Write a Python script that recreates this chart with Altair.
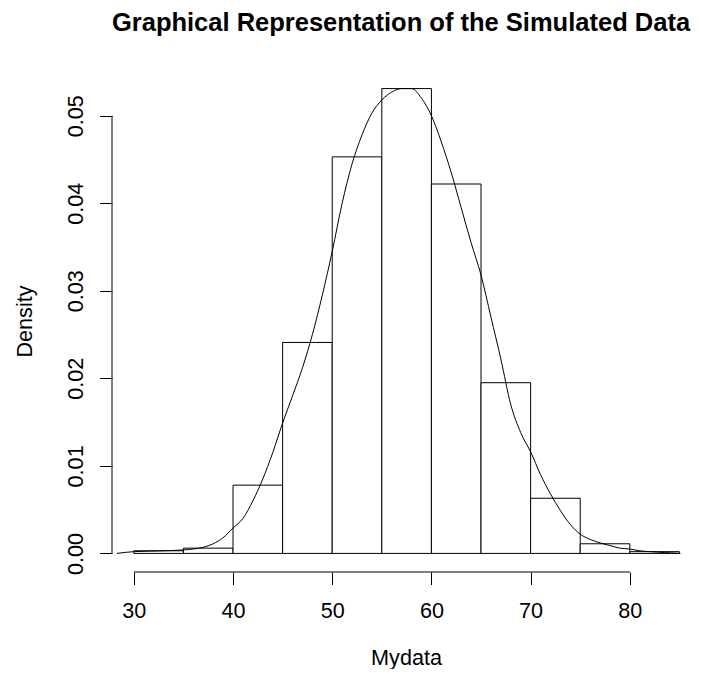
import altair as alt
import pandas as pd

# Histogram (density scale), bins of width 5
bin_start = [30, 35, 40, 45, 50, 55, 60, 65, 70, 75, 80]
bin_end = [35, 40, 45, 50, 55, 60, 65, 70, 75, 80, 85]
bin_density = [0.0003, 0.0006, 0.0078, 0.0241, 0.0453, 0.0531, 0.0422, 0.0195, 0.0063, 0.0011, 0.0002]

# Kernel density curve
curve_x = [28.3, 30, 33, 35, 36, 37, 38, 39, 40, 41, 42, 43, 44, 45, 46, 47, 48, 49, 50,
           51, 52, 53, 54, 55, 56, 57, 58, 59, 60, 61, 62, 63, 64, 65, 66, 67, 68, 69, 70,
           71, 72, 73, 74, 75, 76, 77, 78, 79, 80, 81, 82, 83.5, 85.1]
curve_y = [0.0, 0.0002, 0.0003, 0.0004, 0.0005, 0.0007, 0.0011, 0.0018, 0.0029, 0.0040,
           0.0060, 0.0085, 0.0115, 0.0149, 0.0180, 0.0212, 0.0250, 0.0295, 0.0345, 0.0400,
           0.0445, 0.0478, 0.0503, 0.0518, 0.0527, 0.0531, 0.0531, 0.0520, 0.0500, 0.0470,
           0.0435, 0.0395, 0.0355, 0.0318, 0.0270, 0.0222, 0.0170, 0.0138, 0.0116, 0.0090,
           0.0068, 0.0049, 0.0033, 0.0022, 0.0016, 0.0012, 0.0009, 0.0006, 0.0005, 0.0003,
           0.0002, 0.0001, 0.0]

x_ticks = [30, 40, 50, 60, 70, 80]
y_ticks = [0.0, 0.01, 0.02, 0.03, 0.04, 0.05]

TITLE = "Graphical Representation of the Simulated Data"
X_TITLE = "Mydata"
Y_TITLE = "Density"

FONT = "Liberation Sans"
FS = 21.6
W, H = 582, 502

xs = alt.Scale(domain=[27.8, 86.47], nice=False, zero=False)
ys = alt.Scale(domain=[-0.002124, 0.055224], nice=False, zero=False)

bars_df = pd.DataFrame({"start": bin_start, "end": bin_end, "density": bin_density})
curve_df = pd.DataFrame({"x": curve_x, "y": curve_y})

x_axis = alt.Axis(values=x_ticks, title=X_TITLE, domain=False, grid=False, tickSize=12.5,
                  tickColor="black", labelFontSize=FS, labelFont=FONT, labelColor="black",
                  labelPadding=33, labelBaseline="alphabetic", labelFlush=False,
                  labelOverlap=False, titleFont=FONT, titleFontSize=FS,
                  titleFontWeight="normal", titleColor="black", titleY=92.5,
                  titleX=294, titleAlign="center", titleBaseline="alphabetic")
y_axis = alt.Axis(values=y_ticks, title=Y_TITLE, format=".2f", domain=False, grid=False,
                  tickSize=12.5, tickColor="black", labelFontSize=FS, labelFont=FONT,
                  labelColor="black", labelAngle=270, labelAlign="center",
                  labelBaseline="alphabetic", labelPadding=17.5, labelFlush=False,
                  labelOverlap=False, titleFont=FONT, titleFontSize=FS,
                  titleFontWeight="normal", titleColor="black", titleAngle=270,
                  titleX=-81, titleY=H / 2, titleAlign="center", titleBaseline="alphabetic")

bars = alt.Chart(bars_df).mark_rect(fill="white", stroke="black", strokeWidth=1).encode(
    x=alt.X("start:Q", scale=xs, axis=x_axis),
    x2="end:Q",
    y=alt.Y("density:Q", scale=ys, axis=y_axis),
    y2=alt.datum(0),
)

curve = alt.Chart(curve_df).mark_line(color="black", strokeWidth=1, interpolate="monotone").encode(
    x=alt.X("x:Q", scale=xs),
    y=alt.Y("y:Q", scale=ys),
)

xline = alt.Chart(pd.DataFrame({"a": [x_ticks[0]], "b": [x_ticks[-1]]})).mark_rule(
    color="black", strokeWidth=1).encode(
    x=alt.X("a:Q", scale=xs), x2="b:Q", y=alt.value(H))

yline = alt.Chart(pd.DataFrame({"a": [y_ticks[0]], "b": [y_ticks[-1]]})).mark_rule(
    color="black", strokeWidth=1).encode(
    y=alt.Y("a:Q", scale=ys), y2="b:Q", x=alt.value(0))

title = alt.Chart(pd.DataFrame({"t": [TITLE]})).mark_text(
    font=FONT, fontSize=25.5, fontWeight="bold", color="black", align="center",
    baseline="alphabetic").encode(text="t:N", x=alt.value(289), y=alt.value(-39))

chart = alt.layer(bars, curve, xline, yline, title).properties(
    width=W, height=H,
    padding={"left": 104, "top": 62, "right": 0, "bottom": 97},
    autosize=alt.AutoSizeParams(type="none"),
).configure(background="white", view=alt.ViewConfig(stroke="transparent"))

chart.save("out.html", embed_options={"renderer": "svg", "actions": False})
